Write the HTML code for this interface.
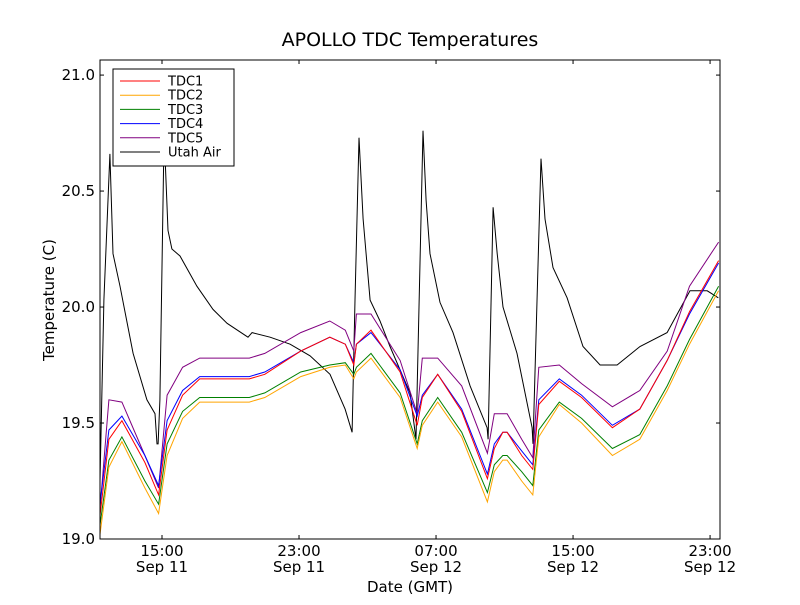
<!DOCTYPE html>
<html><head><meta charset="utf-8"><style>
body{margin:0;background:#fff;}
svg text{font-family:"DejaVu Sans","Liberation Sans",sans-serif;}
</style></head><body>
<svg id="chart" width="800" height="600" viewBox="0 0 800 600">
<rect x="0" y="0" width="800" height="600" fill="#fff"/>
<text x="410" y="46" font-size="19" text-anchor="middle">APOLLO TDC Temperatures</text>
<g id="plot"></g>
<rect x="100" y="60" width="620" height="479" fill="none" stroke="#000" stroke-width="1"/>
<g id="axes"></g>
<text x="410" y="592" font-size="15" text-anchor="middle">Date (GMT)</text>
<text transform="translate(54,300) rotate(-90)" font-size="15" text-anchor="middle">Temperature (C)</text>
<g id="legend"></g>
</svg>
<script>
const tdcTimes=[11.38,11.9,12.66,14.0,14.8,15.3,16.2,17.2,20.1,21.0,23.1,24.8,25.7,26.2,26.35,27.2,28.9,29.9,30.2,31.1,32.5,34.0,34.4,34.9,35.15,36.0,36.65,37.0,38.2,39.5,41.3,42.9,44.5,45.8,47.5];
const tdc1=[19.10,19.43,19.51,19.33,19.19,19.47,19.62,19.69,19.69,19.71,19.81,19.87,19.84,19.75,19.84,19.90,19.72,19.49,19.61,19.71,19.55,19.26,19.39,19.46,19.46,19.36,19.30,19.58,19.68,19.61,19.48,19.56,19.77,19.98,20.20];
const tdc2=[19.02,19.31,19.42,19.22,19.11,19.36,19.52,19.59,19.59,19.61,19.70,19.74,19.75,19.69,19.72,19.78,19.61,19.39,19.49,19.59,19.44,19.16,19.29,19.34,19.34,19.25,19.19,19.44,19.58,19.50,19.36,19.43,19.64,19.84,20.07];
const tdc3=[19.06,19.34,19.44,19.25,19.15,19.41,19.55,19.61,19.61,19.63,19.72,19.75,19.76,19.71,19.74,19.80,19.63,19.41,19.51,19.61,19.46,19.20,19.32,19.36,19.36,19.29,19.23,19.47,19.59,19.52,19.39,19.45,19.66,19.86,20.09];
const tdc4=[19.15,19.47,19.53,19.36,19.23,19.51,19.64,19.70,19.70,19.72,19.81,19.87,19.84,19.76,19.84,19.89,19.73,19.53,19.62,19.71,19.56,19.28,19.41,19.46,19.46,19.38,19.32,19.60,19.69,19.62,19.49,19.56,19.77,19.97,20.19];
const tdc5=[19.13,19.60,19.59,19.36,19.22,19.62,19.74,19.78,19.78,19.80,19.89,19.94,19.90,19.81,19.97,19.97,19.77,19.54,19.78,19.78,19.66,19.37,19.54,19.54,19.54,19.43,19.35,19.74,19.75,19.67,19.57,19.64,19.81,20.09,20.28];
const airTimes=[11.38,11.61,11.96,12.14,12.55,13.31,14.12,14.59,14.71,14.77,14.88,15.12,15.35,15.58,16.05,17.04,17.98,18.80,20.02,20.26,21.31,22.48,23.64,24.81,25.69,26.10,26.27,26.50,26.74,27.15,27.73,28.31,29.48,29.83,30.24,30.42,30.65,31.23,31.99,32.99,33.98,34.04,34.33,34.57,34.91,35.73,36.61,36.66,37.13,37.36,37.83,38.65,39.58,40.58,41.57,42.91,44.49,45.83,46.83,47.48];
const utahAir=[19.25,20.03,20.66,20.23,20.09,19.80,19.60,19.54,19.41,19.41,19.60,20.75,20.33,20.25,20.22,20.09,19.99,19.93,19.87,19.89,19.87,19.84,19.79,19.71,19.56,19.46,20.03,20.73,20.38,20.03,19.94,19.83,19.63,19.43,20.76,20.46,20.23,20.02,19.89,19.66,19.48,19.43,20.43,20.23,20.00,19.80,19.48,19.41,20.64,20.38,20.17,20.04,19.83,19.75,19.75,19.83,19.89,20.07,20.07,20.04];
const yTicks=[19.0,19.5,20.0,20.5,21.0];
const yTickLabels=["19.0","19.5","20.0","20.5","21.0"];
const xTicks=[15,23,31,39,47];
const xTickTimes=["15:00","23:00","07:00","15:00","23:00"];
const xTickDates=["Sep 11","Sep 11","Sep 12","Sep 12","Sep 12"];
const seriesNames=["TDC1","TDC2","TDC3","TDC4","TDC5","Utah Air"];

const X0=100,X1=720,Y0=539,Y1=60;
const tMin=11.38,tMax=47.58,vMin=19.0,vMax=21.065;
function xs(t){return X0+(t-tMin)/(tMax-tMin)*(X1-X0);}
function ys(v){return Y0-(v-vMin)/(vMax-vMin)*(Y0-Y1);}
const NS="http://www.w3.org/2000/svg";
const plot=document.getElementById('plot');
const clip=document.createElementNS(NS,'clipPath');clip.setAttribute('id','clp');
const cr=document.createElementNS(NS,'rect');cr.setAttribute('x',X0);cr.setAttribute('y',Y1);cr.setAttribute('width',X1-X0);cr.setAttribute('height',Y0-Y1);
clip.appendChild(cr);plot.appendChild(clip);
plot.setAttribute('clip-path','url(#clp)');
const colors=["#ff0000","#ffa500","#008000","#0000ff","#800080","#000000"];
const lineNames=["tdc1-line","tdc2-line","tdc3-line","tdc4-line","tdc5-line","utah-air-line"];
const data=[[tdcTimes,tdc1],[tdcTimes,tdc2],[tdcTimes,tdc3],[tdcTimes,tdc4],[tdcTimes,tdc5],[airTimes,utahAir]];
const order=[5,4,3,2,1,0];
order.forEach(i=>{
  const [ts,vs]=data[i];
  const p=document.createElementNS(NS,'polyline');
  p.setAttribute('points',ts.map((t,k)=>xs(t).toFixed(1)+','+ys(vs[k]).toFixed(1)).join(' '));
  p.setAttribute('fill','none');p.setAttribute('stroke',colors[i]);p.setAttribute('stroke-width','1');
  
  
  plot.appendChild(p);
});
const axes=document.getElementById('axes');
function ln(x1,y1,x2,y2){const l=document.createElementNS(NS,'line');l.setAttribute('x1',x1);l.setAttribute('y1',y1);l.setAttribute('x2',x2);l.setAttribute('y2',y2);l.setAttribute('stroke','#000');axes.appendChild(l);return l;}
yTicks.forEach((v,i)=>{
  const y=ys(v);
  const a=ln(X0,y,X0+4,y);
  
  
  const b=ln(X1-4,y,X1,y);
  
  
  const t=document.createElementNS(NS,'text');
  t.setAttribute('x',X0-5);t.setAttribute('y',y+5);t.setAttribute('font-size','15');t.setAttribute('text-anchor','end');
  t.textContent=yTickLabels[i];
  
  
  axes.appendChild(t);
});
xTicks.forEach((tv,i)=>{
  const x=xs(tv);
  const a=ln(x,Y0,x,Y0-4);
  
  
  const b=ln(x,Y1,x,Y1+4);
  
  
  const t=document.createElementNS(NS,'text');
  t.setAttribute('x',x);t.setAttribute('y',556);t.setAttribute('font-size','15');t.setAttribute('text-anchor','middle');
  t.textContent=xTickTimes[i];
  
  
  axes.appendChild(t);
  const d=document.createElementNS(NS,'text');
  d.setAttribute('x',x);d.setAttribute('y',572);d.setAttribute('font-size','15');d.setAttribute('text-anchor','middle');
  d.textContent=xTickDates[i];
  
  
  axes.appendChild(d);
});
const lg=document.getElementById('legend');
const box=document.createElementNS(NS,'rect');
box.setAttribute('x',113);box.setAttribute('y',69);box.setAttribute('width',121);box.setAttribute('height',97);
box.setAttribute('fill','#fff');box.setAttribute('stroke','#000');


lg.appendChild(box);
seriesNames.forEach((n,i)=>{
  const y=81+i*14.2;
  const l=document.createElementNS(NS,'line');
  l.setAttribute('x1',120);l.setAttribute('x2',160);l.setAttribute('y1',y);l.setAttribute('y2',y);l.setAttribute('stroke',colors[i]);
  
  
  lg.appendChild(l);
  const t=document.createElementNS(NS,'text');
  t.setAttribute('x',168);t.setAttribute('y',y+4.5);t.setAttribute('font-size','13');
  t.textContent=n;
  
  
  lg.appendChild(t);
});
</script>
</body></html>
